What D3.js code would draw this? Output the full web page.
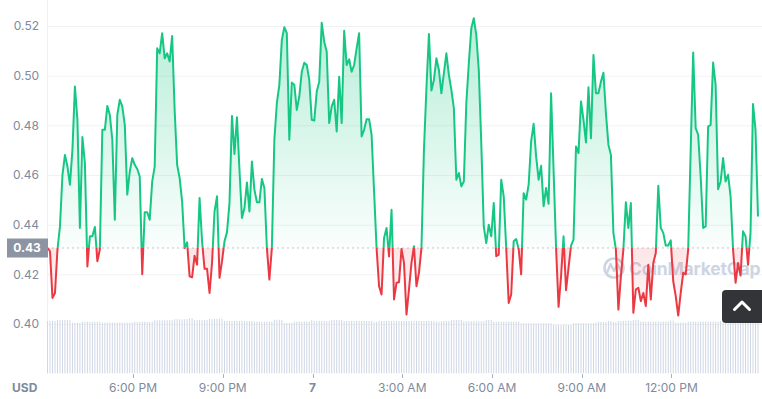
<!DOCTYPE html>
<html>
<head>
<meta charset="utf-8">
<script src="https://cdn.jsdelivr.net/npm/d3@7"></script>
<style>
body{margin:0;background:#fff;overflow:hidden;}
text{font-family:Inter,"Noto Sans",sans-serif;}
</style>
</head>
<body>
<script>
// DATA
var startTime = new Date(2023, 2, 6, 15, 8, 30);
var stepMinutes = 5;
var currency = "USD";

var prices = [
0.4306,0.4293,0.4105,0.4125,0.4300,0.4393,0.4600,0.4681,0.4634,0.4561,0.4701,0.4956,
0.4822,0.4387,0.4753,0.4648,0.4232,0.4353,0.4353,0.4391,0.4253,0.4300,0.4782,0.4782,
0.4878,0.4842,0.4742,0.4420,0.4842,0.4903,0.4876,0.4802,0.4521,0.4614,0.4668,0.4641,
0.4624,0.4594,0.4200,0.4450,0.4450,0.4420,0.4574,0.4634,0.5110,0.5090,0.5171,0.5070,
0.5090,0.5057,0.5160,0.4862,0.4641,0.4588,0.4494,0.4306,0.4329,0.4192,0.4188,0.4275,
0.4239,0.4507,0.4333,0.4222,0.4222,0.4125,0.4246,0.4453,0.4514,0.4186,0.4253,0.4333,
0.4370,0.4487,0.4838,0.4685,0.4833,0.4621,0.4427,0.4467,0.4570,0.4453,0.4654,0.4541,
0.4490,0.4490,0.4584,0.4548,0.4306,0.4179,0.4306,0.4742,0.4889,0.4963,0.5144,0.5195,
0.5171,0.4742,0.4972,0.4963,0.4862,0.4916,0.5016,0.5052,0.5043,0.4983,0.4822,0.4819,
0.4936,0.4976,0.5213,0.5137,0.5097,0.4809,0.4876,0.4903,0.4775,0.4996,0.4809,0.5181,
0.5043,0.5066,0.5016,0.5043,0.5110,0.5171,0.4755,0.4782,0.4825,0.4825,0.4762,0.4534,
0.4306,0.4152,0.4119,0.4346,0.4387,0.4272,0.4460,0.4099,0.4166,0.4168,0.4302,0.4246,
0.4038,0.4139,0.4246,0.4313,0.4152,0.4206,0.4306,0.4701,0.4950,0.5168,0.4940,0.4983,
0.5070,0.5023,0.4929,0.5010,0.5090,0.5003,0.4943,0.4869,0.4581,0.4608,0.4554,0.4574,
0.4889,0.5050,0.5191,0.5231,0.5164,0.5023,0.4728,0.4393,0.4326,0.4400,0.4353,0.4487,
0.4273,0.4279,0.4581,0.4514,0.4306,0.4085,0.4119,0.4333,0.4342,0.4302,0.4200,0.4527,
0.4501,0.4561,0.4735,0.4806,0.4675,0.4581,0.4637,0.4474,0.4548,0.4484,0.4929,0.4621,
0.4306,0.4069,0.4192,0.4353,0.4136,0.4226,0.4316,0.4340,0.4715,0.4688,0.4896,0.4822,
0.4731,0.4953,0.4748,0.5083,0.4929,0.4929,0.4976,0.5012,0.4849,0.4722,0.4681,0.4367,
0.4300,0.4058,0.4192,0.4300,0.4490,0.4387,0.4487,0.4045,0.4139,0.4146,0.4092,0.4125,
0.4072,0.4239,0.4099,0.4246,0.4286,0.4557,0.4387,0.4367,0.4316,0.4316,0.4337,0.4172,
0.4112,0.4034,0.4125,0.4206,0.4200,0.4300,0.4701,0.5093,0.4789,0.4762,0.4594,0.4387,
0.4393,0.4795,0.4802,0.5053,0.4963,0.4543,0.4574,0.4668,0.4574,0.4601,0.4514,0.4300,
0.4166,0.4246,0.4195,0.4373,0.4353,0.4239,0.4367,0.4886,0.4782,0.4433
];

var volumes = [
52.3,52.3,52.4,52.3,53.3,53.3,53.4,53.3,53.3,53.4,50.5,50.5,
50.6,50.5,51.5,51.5,51.6,51.5,51.5,51.5,51.6,51.5,50.7,50.7,
50.7,50.8,50.7,50.7,50.7,50.8,50.7,50.7,50.7,50.8,50.7,51.5,
51.5,51.5,51.6,51.5,51.5,51.5,51.6,53.0,53.0,53.1,53.0,53.0,
53.0,53.1,53.0,54.0,54.1,54.0,54.0,54.0,54.1,55.0,55.0,53.3,
53.3,53.4,53.3,53.3,53.3,54.5,54.5,54.6,54.5,54.5,54.6,52.3,
52.3,52.3,52.4,52.3,52.3,52.3,52.4,52.3,52.3,52.3,52.4,51.7,
51.7,51.8,51.7,51.7,51.7,51.8,51.7,53.5,53.5,53.6,53.5,50.3,
50.3,50.4,50.3,51.7,51.7,51.8,51.7,51.7,51.7,51.8,53.3,52.3,
52.3,52.4,52.3,52.3,52.3,52.4,53.3,53.3,53.4,53.3,53.3,52.3,
52.3,52.4,52.3,52.3,52.3,52.4,52.3,52.3,52.3,52.4,52.3,51.5,
51.5,52.3,52.3,52.4,52.3,52.3,52.3,52.4,52.3,52.3,52.3,52.4,
52.3,52.3,52.3,52.4,52.3,52.3,52.3,52.4,52.3,52.3,52.3,52.4,
51.7,51.7,51.8,52.3,52.3,52.3,53.3,53.3,53.4,53.3,53.3,52.0,
52.0,52.1,52.0,52.0,52.0,52.1,52.0,52.0,53.3,53.3,53.3,51.7,
51.7,51.8,51.7,51.7,51.7,51.8,51.7,51.7,51.7,51.8,50.0,50.0,
50.0,50.1,50.0,50.0,50.0,50.1,50.0,50.0,50.0,50.1,50.0,48.3,
48.3,48.4,48.3,48.3,48.3,48.4,48.3,50.0,50.0,50.1,50.0,50.0,
50.0,50.1,50.0,50.0,50.8,51.3,51.3,51.4,51.3,52.3,52.3,51.3,
51.3,52.3,52.3,52.4,52.3,52.3,52.3,53.3,53.3,53.4,51.7,51.7,
51.7,51.8,51.7,51.7,51.7,51.8,51.7,51.7,51.7,51.8,52.7,52.7,
50.7,50.7,50.8,50.7,50.7,51.7,51.7,51.8,51.7,51.7,51.7,51.8,
51.7,51.7,51.7,51.8,51.7,51.7,52.3,52.3,52.4,52.3,52.3,52.3,
52.4,52.3,52.3,52.3,52.4,52.3,52.3,52.3,52.4,52.3
];

var yTicks = [0.40, 0.42, 0.44, 0.46, 0.48, 0.50, 0.52];
var yTickLabels = ["0.40", "0.42", "0.44", "0.46", "0.48", "0.50", "0.52"];
var xTickTimes = [
  new Date(2023, 2, 6, 18), new Date(2023, 2, 6, 21), new Date(2023, 2, 7, 0),
  new Date(2023, 2, 7, 3), new Date(2023, 2, 7, 6), new Date(2023, 2, 7, 9),
  new Date(2023, 2, 7, 12)
];
var xTickLabels = ["6:00 PM", "9:00 PM", "7", "3:00 AM", "6:00 AM", "9:00 AM", "12:00 PM"];
var refPrice = prices[0];
var refLabel = "0.43";

// COLORS
var green = "#16c784", red = "#ea3943", grey = "#808a9d";

var times = prices.map(function(d, i){ return new Date(+startTime + i*stepMinutes*60000); });
var data = prices.map(function(d, i){ return {t: times[i], p: d, v: volumes[i]}; });

var svg = d3.select("body").append("svg")
  .attr("width", 762).attr("height", 399);

var x = d3.scaleTime().domain([times[0], times[times.length-1]]).range([47.5, 758]);
var y = d3.scaleLinear().domain([0.40, 0.52]).range([324, 26]);
var yVol = d3.scaleLinear().domain([0, d3.max(volumes)]).range([373.3, 318.3]);
var yRef = y(refPrice);

var defs = svg.append("defs");
var gGreen = defs.append("linearGradient").attr("id", "gGreen")
  .attr("gradientUnits", "userSpaceOnUse").attr("x1", 0).attr("x2", 0)
  .attr("y1", y(0.52)).attr("y2", yRef);
gGreen.append("stop").attr("offset", 0).attr("stop-color", green).attr("stop-opacity", 0.3);
gGreen.append("stop").attr("offset", 1).attr("stop-color", green).attr("stop-opacity", 0.02);
var gRed = defs.append("linearGradient").attr("id", "gRed")
  .attr("gradientUnits", "userSpaceOnUse").attr("x1", 0).attr("x2", 0)
  .attr("y1", yRef).attr("y2", y(0.40));
gRed.append("stop").attr("offset", 0).attr("stop-color", red).attr("stop-opacity", 0.13);
gRed.append("stop").attr("offset", 1).attr("stop-color", red).attr("stop-opacity", 0.02);

defs.append("clipPath").attr("id", "above").append("rect")
  .attr("x", 0).attr("y", 0).attr("width", 762).attr("height", yRef);
defs.append("clipPath").attr("id", "below").append("rect")
  .attr("x", 0).attr("y", yRef).attr("width", 762).attr("height", 399 - yRef);

// grid
svg.selectAll(".grid").data(yTicks).enter().append("line")
  .attr("x1", 47.5).attr("x2", 762)
  .attr("y1", function(d){ return y(d) + 0.5; })
  .attr("y2", function(d){ return y(d) + 0.5; })
  .attr("stroke", "#eff2f5").attr("stroke-width", 1);
svg.append("line").attr("x1", 47.5).attr("x2", 47.5).attr("y1", 0).attr("y2", 374)
  .attr("stroke", "#eff2f5");

// volume bars
svg.selectAll(".vol").data(data).enter().append("rect")
  .attr("x", function(d){ return x(d.t) - 0.5; })
  .attr("y", function(d){ return yVol(d.v); })
  .attr("width", 1)
  .attr("height", function(d){ return yVol(0) - yVol(d.v); })
  .attr("fill", "#cfd6e4");

// watermark
var wm = svg.append("g").attr("opacity", 0.8);
wm.append("circle").attr("cx", 614).attr("cy", 268).attr("r", 9.5)
  .attr("fill", "none").attr("stroke", "#c3cbdb").attr("stroke-width", 2.6);
wm.append("path").attr("d", "M607,273 L610.5,264 L614,271 L617.5,264 L621,271")
  .attr("fill", "none").attr("stroke", "#c3cbdb").attr("stroke-width", 2.4)
  .attr("stroke-linejoin", "round").attr("stroke-linecap", "round");
wm.append("text").attr("x", 629).attr("y", 274.5).text("CoinMarketCap")
  .attr("font-size", 17.5).attr("font-weight", 700).attr("fill", "#c3cbdb")
  .attr("letter-spacing", -0.2);

// areas
var area = d3.area().x(function(d){ return x(d.t); })
  .y0(yRef).y1(function(d){ return y(d.p); });
svg.append("path").datum(data).attr("d", area)
  .attr("fill", "url(#gGreen)").attr("clip-path", "url(#above)");
svg.append("path").datum(data).attr("d", area)
  .attr("fill", "url(#gRed)").attr("clip-path", "url(#below)");

// reference line
svg.append("line").attr("x1", 47.5).attr("x2", 762).attr("y1", yRef).attr("y2", yRef)
  .attr("stroke", grey).attr("stroke-width", 1).attr("stroke-dasharray", "1,4");

// price line
var line = d3.line().x(function(d){ return x(d.t); }).y(function(d){ return y(d.p); });
svg.append("path").datum(data).attr("d", line)
  .attr("fill", "none").attr("stroke", green).attr("stroke-width", 2)
  .attr("stroke-linejoin", "round").attr("clip-path", "url(#above)");
svg.append("path").datum(data).attr("d", line)
  .attr("fill", "none").attr("stroke", red).attr("stroke-width", 2)
  .attr("stroke-linejoin", "round").attr("clip-path", "url(#below)");

// y labels
svg.selectAll(".ylab").data(yTicks).enter().append("text")
  .attr("x", 39).attr("y", function(d){ return y(d); })
  .attr("dy", "0.35em").attr("text-anchor", "end")
  .attr("font-size", 12).attr("fill", grey)
  .text(function(d, i){ return yTickLabels[i]; });

// reference badge
svg.append("rect").attr("x", 7).attr("y", yRef - 9.5).attr("width", 41).attr("height", 19)
  .attr("fill", "#8c93a3");
svg.append("text").attr("x", 27).attr("y", yRef).attr("dy", "0.36em")
  .attr("text-anchor", "middle").attr("font-size", 12).attr("font-weight", 700)
  .attr("fill", "#fff").text(refLabel);

// x axis
svg.selectAll(".xtick").data(xTickTimes).enter().append("line")
  .attr("x1", function(d){ return Math.round(x(d)) + 0.5; })
  .attr("x2", function(d){ return Math.round(x(d)) + 0.5; })
  .attr("y1", 374).attr("y2", 378).attr("stroke", "#a6b0c3");
svg.selectAll(".xlab").data(xTickTimes).enter().append("text")
  .attr("x", function(d){ return x(d); }).attr("y", 392)
  .attr("text-anchor", "middle").attr("font-size", 12)
  .attr("font-weight", function(d, i){ return xTickLabels[i] == "7" ? 700 : 400; })
  .attr("fill", grey)
  .text(function(d, i){ return xTickLabels[i]; });
svg.append("text").attr("x", 12).attr("y", 392).attr("font-size", 12)
  .attr("font-weight", 700).attr("fill", grey).text(currency);

// scroll-to-top button
svg.append("rect").attr("x", 722).attr("y", 290).attr("width", 44).attr("height", 33)
  .attr("rx", 4).attr("fill", "#333437");
svg.append("path").attr("d", "M734.5,309.5 L742,302 L749.5,309.5")
  .attr("fill", "none").attr("stroke", "#fff").attr("stroke-width", 3)
  .attr("stroke-linecap", "round").attr("stroke-linejoin", "round");
</script>
</body>
</html>
